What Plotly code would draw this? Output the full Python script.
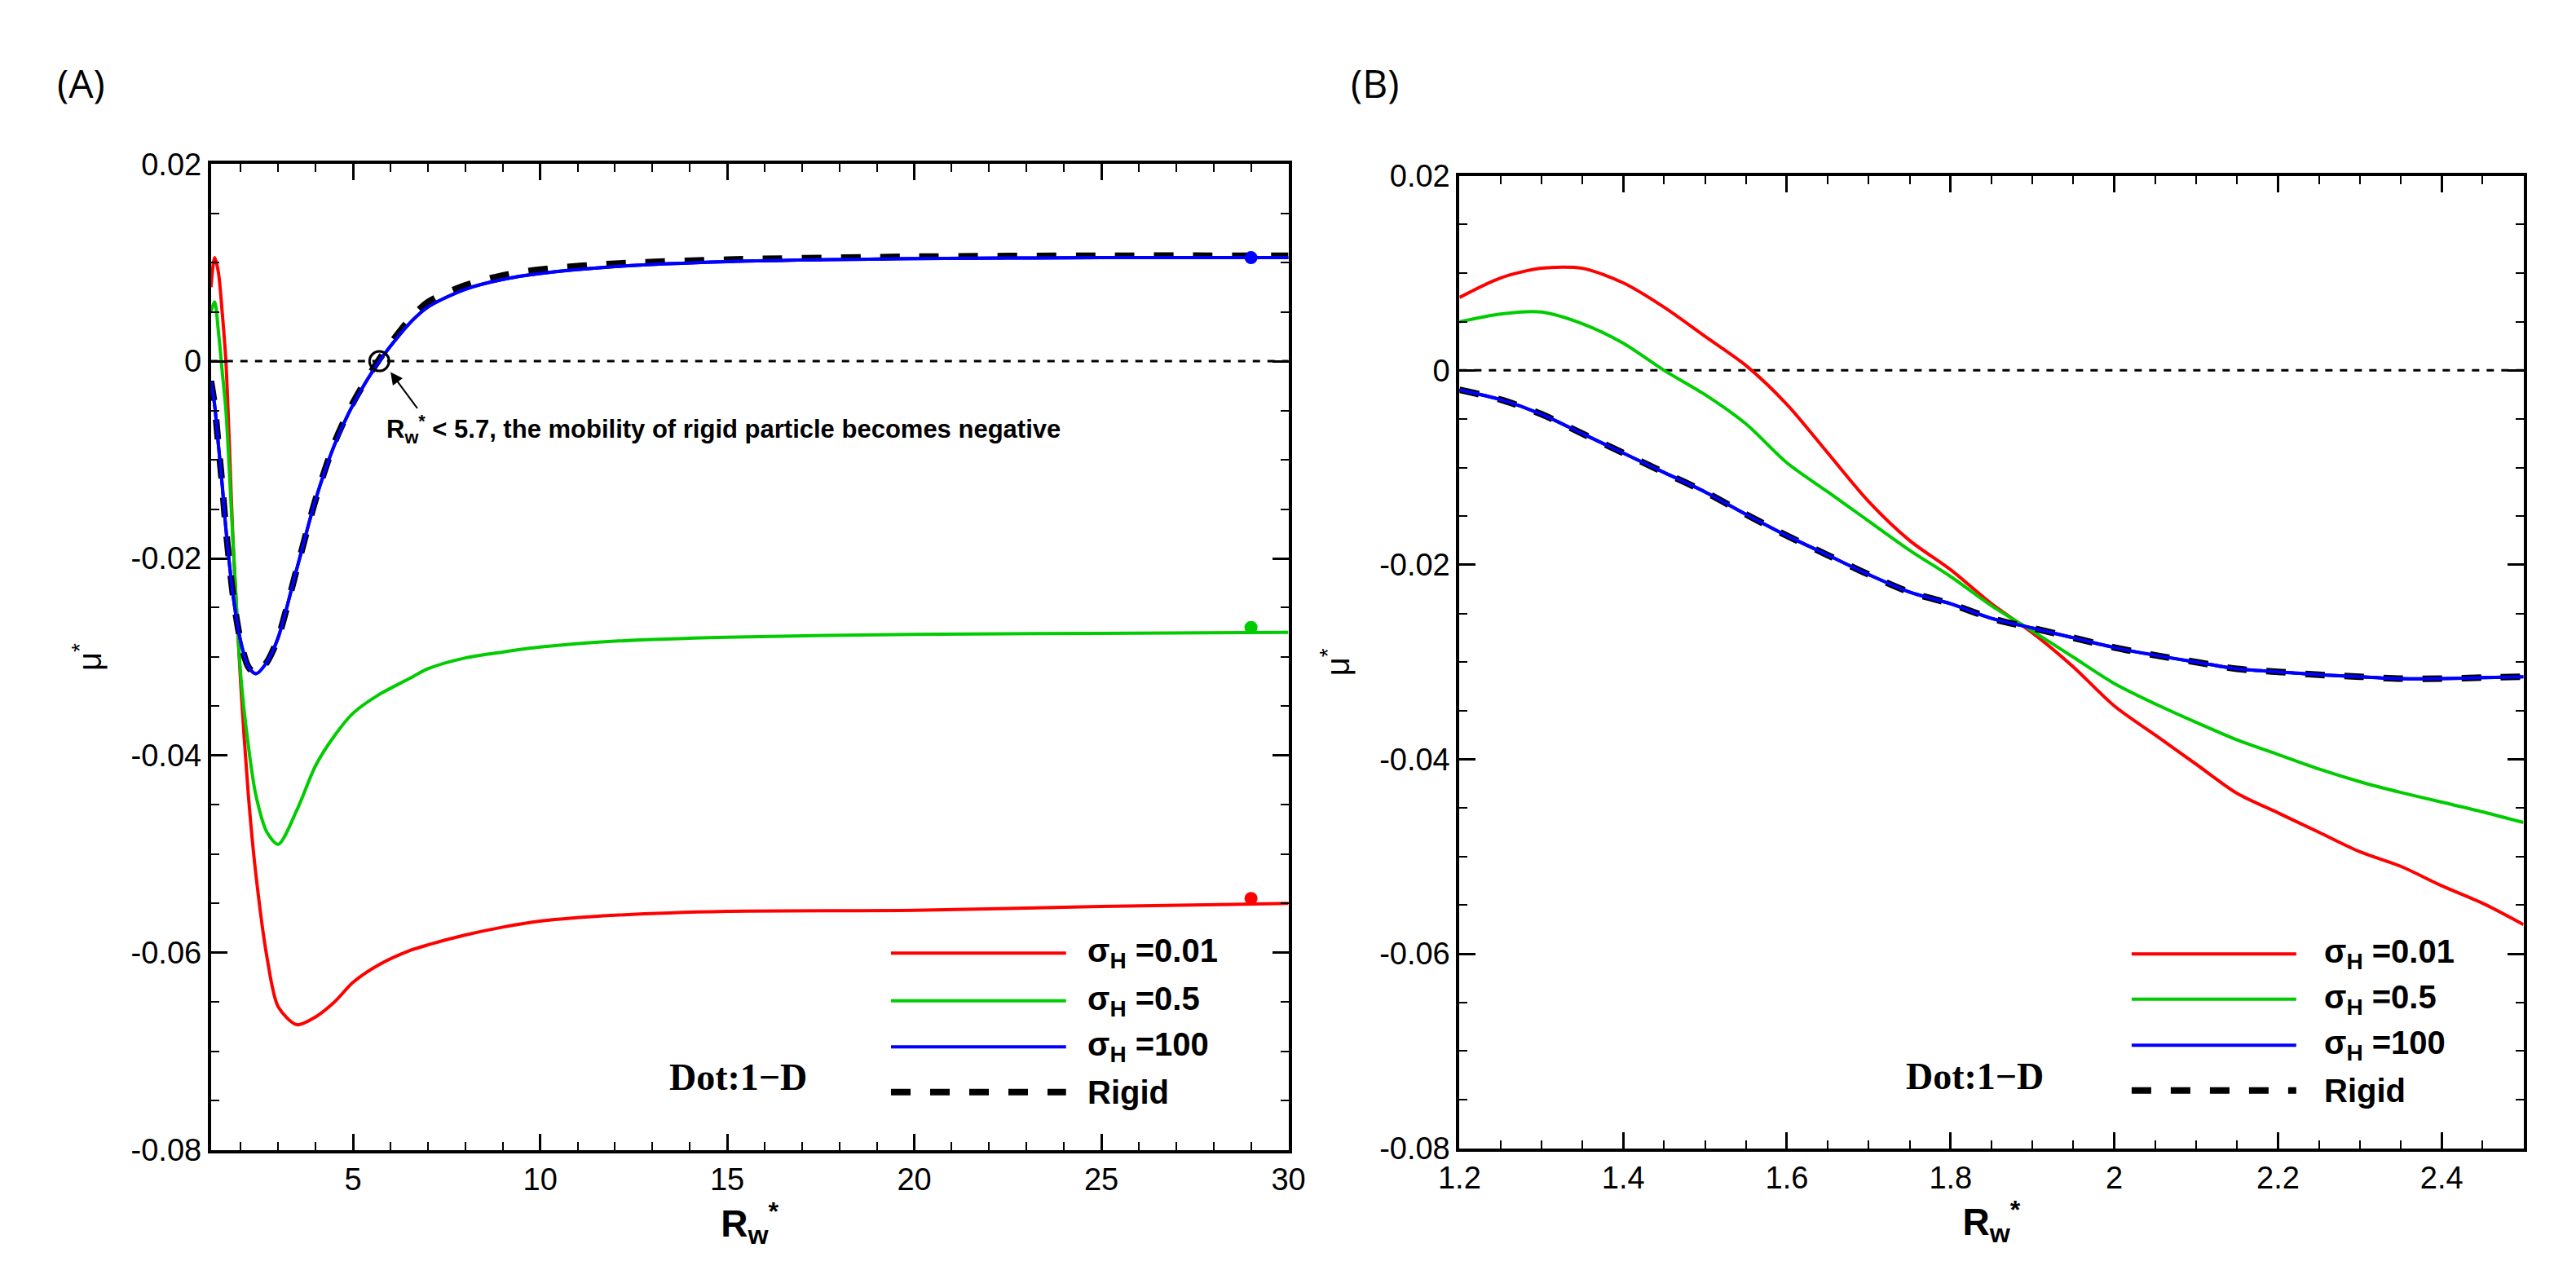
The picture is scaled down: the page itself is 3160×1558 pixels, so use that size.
import plotly.graph_objects as go
from plotly.subplots import make_subplots

# Panel A data
xA = [1.2, 1.3, 1.4, 1.5, 1.6, 1.8, 2.0, 2.2, 2.4, 2.7, 3.0, 3.5, 4.0, 4.5, 5.0, 5.7, 6.5, 7.0, 8.0, 9.0, 10, 12, 15, 20, 25, 30]
redA = [0.0075, 0.0105, 0.009, 0.005, 0.0, -0.019, -0.033, -0.044, -0.052, -0.0605, -0.0655, -0.0673, -0.0665, -0.065, -0.063, -0.0612, -0.0598, -0.0592, -0.0582, -0.0574, -0.0568, -0.0562, -0.0558, -0.0557, -0.0553, -0.0550]
greenA = [0.005, 0.006, 0.003, -0.001, -0.005, -0.019, -0.032, -0.039, -0.044, -0.0478, -0.049, -0.0455, -0.041, -0.038, -0.0357, -0.0338, -0.0322, -0.0312, -0.0301, -0.0295, -0.029, -0.0284, -0.028, -0.0277, -0.0276, -0.0275]
blueA = [-0.002, -0.0045, -0.0085, -0.0125, -0.017, -0.024, -0.0285, -0.031, -0.0317, -0.0305, -0.028, -0.021, -0.014, -0.0085, -0.0044, 0.0, 0.0038, 0.0055, 0.0073, 0.0083, 0.0089, 0.0096, 0.0101, 0.0104, 0.0105, 0.0105]
rigidA = [-0.002, -0.0045, -0.0085, -0.0125, -0.017, -0.024, -0.0285, -0.031, -0.0317, -0.0305, -0.028, -0.021, -0.014, -0.0083, -0.0042, 0.0002, 0.0042, 0.006, 0.0077, 0.0087, 0.0093, 0.0099, 0.0103, 0.0106, 0.0107, 0.0107]
dotX = [29, 29, 29]
dotY = [0.0105, -0.027, -0.0545]

# Panel B data
xB = [1.2, 1.25, 1.3, 1.35, 1.4, 1.45, 1.5, 1.55, 1.6, 1.65, 1.7, 1.75, 1.8, 1.85, 1.9, 1.95, 2.0, 2.05, 2.1, 2.15, 2.2, 2.25, 2.3, 2.35, 2.4, 2.45, 2.5]
redB = [0.0075, 0.0095, 0.0105, 0.0105, 0.009, 0.0065, 0.0035, 0.0005, -0.0035, -0.0085, -0.0135, -0.0175, -0.0205, -0.024, -0.027, -0.0305, -0.0345, -0.0375, -0.0405, -0.0435, -0.0455, -0.0475, -0.0495, -0.051, -0.053, -0.0548, -0.057]
greenB = [0.005, 0.0058, 0.006, 0.0048, 0.0028, 0.0, -0.0025, -0.0055, -0.0095, -0.0125, -0.0155, -0.0185, -0.0212, -0.0242, -0.0268, -0.0295, -0.0322, -0.0343, -0.0362, -0.038, -0.0395, -0.041, -0.0423, -0.0434, -0.0444, -0.0454, -0.0465]
blueB = [-0.002, -0.003, -0.0045, -0.0065, -0.0085, -0.0105, -0.0125, -0.0148, -0.017, -0.019, -0.021, -0.0228, -0.024, -0.0255, -0.0265, -0.0275, -0.0285, -0.0293, -0.030, -0.0307, -0.031, -0.0313, -0.0315, -0.0317, -0.0317, -0.0316, -0.0315]
rigidB = blueB

labels = ["σ<sub>H</sub> =0.01", "σ<sub>H</sub> =0.5", "σ<sub>H</sub> =100", "Rigid"]
colors = ["#ff0000", "#00cc00", "#0000ff", "black"]

fig = make_subplots(rows=1, cols=2)
fig.update_layout(width=3160, height=1558, margin=dict(l=0, r=0, t=0, b=0),
                  plot_bgcolor="white", paper_bgcolor="white", showlegend=False,
                  font=dict(family="Liberation Sans, Arial", size=38, color="black"))
fig.layout.xaxis.domain = [0.0722, 0.4968]
fig.layout.yaxis.domain = [0.0886, 0.8864]
fig.layout.xaxis2.domain = [0.5642, 0.9835]
fig.layout.yaxis2.domain = [0.0899, 0.8768]

for col, (x, ser) in enumerate([(xA, [redA, greenA, blueA]), (xB, [redB, greenB, blueB])], start=1):
    xr = [1.2, 30] if col == 1 else [1.2, 2.5]
    fig.add_trace(go.Scatter(x=xr, y=[0, 0], mode="lines", line=dict(color="black", width=3, dash="dash")), row=1, col=col)
    for s, c in zip(ser, colors[:3]):
        fig.add_trace(go.Scatter(x=x, y=s, mode="lines", line=dict(color=c, width=4, shape="spline", smoothing=0.8)), row=1, col=col)
    rig = rigidA if col == 1 else rigidB
    fig.add_trace(go.Scatter(x=x, y=rig, mode="lines", line=dict(color="black", width=8, dash="dash", shape="spline", smoothing=0.8)), row=1, col=col)
    fig.add_trace(go.Scatter(x=x, y=ser[2], mode="lines", line=dict(color="#0000ff", width=4, shape="spline", smoothing=0.8)), row=1, col=col)

fig.add_trace(go.Scatter(x=dotX, y=dotY, mode="markers", marker=dict(color=["#0000ff", "#00cc00", "#ff0000"], size=16)), row=1, col=1)
fig.add_trace(go.Scatter(x=[5.7], y=[0], mode="markers", marker=dict(symbol="circle-open", color="black", size=24, line=dict(width=3))), row=1, col=1)

axcommon = dict(showgrid=False, zeroline=False, showline=True, linecolor="black", linewidth=4, mirror="allticks",
                ticks="inside", ticklen=20, tickwidth=3, tickcolor="black", tickfont=dict(size=38))
fig.update_xaxes(**axcommon, range=[1.2, 30], tickvals=[5, 10, 15, 20, 25, 30], minor=dict(dtick=1, ticklen=10, tickwidth=2, ticks="inside", tick0=0), row=1, col=1)
fig.update_xaxes(**axcommon, range=[1.2, 2.5], tickvals=[1.2, 1.4, 1.6, 1.8, 2, 2.2, 2.4], ticktext=["1.2", "1.4", "1.6", "1.8", "2", "2.2", "2.4"], minor=dict(dtick=0.05, ticklen=10, tickwidth=2, ticks="inside"), row=1, col=2)
for c in (1, 2):
    fig.update_xaxes(title=dict(text="<b>R<sub>w</sub><sup>*</sup></b>", font=dict(size=46), standoff=5), row=1, col=c)
    fig.update_yaxes(**axcommon, range=[-0.08, 0.02], tickvals=[-0.08, -0.06, -0.04, -0.02, 0, 0.02],
                     ticktext=["-0.08", "-0.06", "-0.04", "-0.02", "0", "0.02"],
                     minor=dict(dtick=0.005, ticklen=10, tickwidth=2, ticks="inside"),
                     title=dict(text="μ<sup>*</sup>", font=dict(size=40), standoff=25), row=1, col=c)

# legends
def legend(xref, yref, x0, x1, xt, ys):
    for lab, c, yy in zip(labels, colors, ys):
        fig.add_shape(type="line", xref=xref, yref=yref, x0=x0, x1=x1, y0=yy, y1=yy,
                      line=dict(color=c, width=8 if c == "black" else 4, dash="dash" if c == "black" else "solid"))
        fig.add_annotation(xref=xref, yref=yref, x=xt, y=yy, text="<b>" + lab + "</b>", showarrow=False,
                           xanchor="left", yanchor="middle", font=dict(size=40))

legend("x domain", "y domain", (1075-228)/1342, (1293-228)/1342, (1318-228)/1342,
       [(1420-1172)/1243, (1420-1232)/1243, (1420-1290)/1243, (1420-1347)/1243])
legend("x2 domain", "y2 domain", (1040-203)/1325, (1245-203)/1325, (1278-203)/1325,
       [(1418-1173)/1226, (1418-1230)/1226, (1418-1288)/1226, (1418-1345)/1226])

fig.add_annotation(xref="x", yref="y", x=15.3, y=-0.0726, text="<b>Dot:1−D</b>", showarrow=False,
                   font=dict(family="Liberation Serif, Times New Roman", size=46))
fig.add_annotation(xref="x2", yref="y2", x=1.83, y=-0.0726, text="<b>Dot:1−D</b>", showarrow=False,
                   font=dict(family="Liberation Serif, Times New Roman", size=46))
fig.add_annotation(xref="x", yref="y", x=5.85, y=-0.0069, text="<b>R<sub>w</sub><sup>*</sup> < 5.7, the mobility of rigid particle becomes negative</b>",
                   showarrow=False, xanchor="left", yanchor="middle", font=dict(size=31))
fig.add_annotation(xref="x", yref="y", x=6.0, y=-0.0011, ax=34, ay=46, text="", showarrow=True,
                   arrowhead=2, arrowsize=1.5, arrowwidth=2, arrowcolor="black")

fig.add_annotation(xref="paper", yref="paper", x=35/3160, y=1-75/1558, text="(A)", showarrow=False,
                   xanchor="left", yanchor="middle", font=dict(size=48, family="Open Sans"))
fig.add_annotation(xref="paper", yref="paper", x=1645/3160, y=1-75/1558, text="(B)", showarrow=False,
                   xanchor="left", yanchor="middle", font=dict(size=48, family="Open Sans"))

fig.write_html("out.html")
